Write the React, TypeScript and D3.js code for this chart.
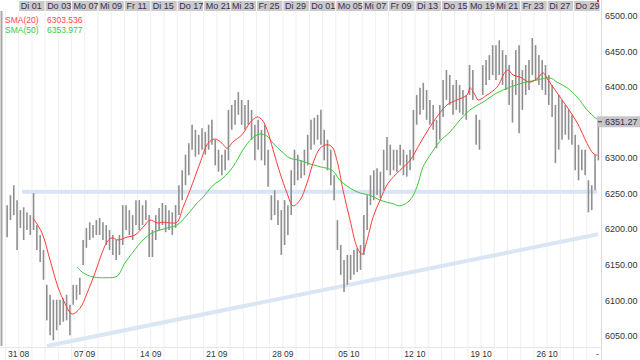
import React from "react";
import * as d3 from "d3";

const W = 640;
const H = 360;

const topLabels = ["Di 01","Do 03","Mo 07","Mi 09","Fr 11","Di 15","Do 17","Mo 21","Mi 23","Fr 25","Di 29","Do 01","Mo 05","Mi 07","Fr 09","Di 13","Do 15","Mo 19","Mi 21","Fr 23","Di 27","Do 29"];
const topLabelDays = [1,3,5,7,9,11,13,15,17,19,21,23,25,27,29,31,33,35,37,39,41,43];
const weekLabels = ["31 08","07 09","14 09","21 09","28 09","05 10","12 10","19 10","26 10"];
const weekLabelDays = [0,5,10,15,20,25,30,35,40];
const yTicks = [6050,6100,6150,6200,6250,6300,6350,6400,6450,6500];

const lastPrice = 6351.27;
const sma20Last = 6303.536;
const sma50Last = 6353.977;

// intraday bars: 4 per trading day (high / low)
const barHigh = [
  [6234,6248,6262,6241],[6227,6231,6224,6220],[6251,6206,6192,6171],[6122,6108,6101,6101],[6101,6103,6108,6094],
  [6122,6122,6132,6185],[6202,6210,6206,6213],[6216,6210,6206,6199],[6192,6185,6192,6234],[6234,6227,6220,6241],
  [6241,6234,6241,6220],[6199,6220,6230,6237],[6234,6227,6224,6234],[6262,6283,6305,6321],[6347,6340,6333,6342],
  [6337,6347,6354,6326],[6312,6305,6312,6368],[6375,6382,6393,6382],[6375,6382,6368,6347],[6354,6340,6347,6312],
  [6248,6255,6241,6227],[6241,6234,6283,6312],[6305,6297,6312,6333],[6354,6357,6361,6368],[6340,6326,6312,6276],
  [6213,6178,6157,6164],[6164,6171,6174,6178],[6220,6248,6276,6283],[6286,6281,6312,6330],[6319,6312,6312,6319],
  [6312,6305,6312,6368],[6389,6399,6406,6396],[6382,6375,6354,6375],[6410,6424,6417,6403],[6410,6403,6396,6389],
  [6431,6424,6361,6354],[6431,6438,6445,6459],[6459,6466,6452,6445],[6431,6410,6452,6459],[6424,6431,6438,6469],
  [6459,6445,6438,6431],[6417,6403,6375,6389],[6382,6375,6368,6361],[6333,6319,6312,6312],[6269,6262,6305,6354],
];
const barLow = [
  [6189,6213,6220,6171],[6202,6185,6199,6192],[6199,6171,6154,6129],[6072,6051,6044,6058],[6065,6070,6072,6051],
  [6094,6101,6108,6150],[6174,6185,6188,6192],[6192,6185,6178,6171],[6164,6157,6164,6178],[6199,6192,6185,6206],
  [6199,6206,6213,6161],[6161,6185,6199,6206],[6196,6199,6192,6202],[6220,6241,6262,6276],[6312,6302,6305,6312],
  [6305,6312,6319,6290],[6281,6276,6283,6297],[6340,6347,6361,6347],[6340,6347,6326,6297],[6312,6297,6290,6260],
  [6213,6220,6206,6164],[6178,6192,6220,6262],[6269,6272,6276,6290],[6312,6319,6326,6319],[6297,6283,6262,6241],
  [6171,6136,6112,6122],[6129,6136,6140,6143],[6164,6199,6234,6241],[6248,6244,6255,6283],[6276,6283,6281,6290],
  [6276,6274,6283,6297],[6347,6361,6368,6354],[6347,6340,6314,6326],[6358,6382,6375,6361],[6368,6364,6361,6354],
  [6389,6382,6319,6312],[6389,6403,6410,6417],[6410,6417,6403,6396],[6375,6350,6389,6335],[6368,6389,6396,6417],
  [6410,6403,6396,6389],[6375,6358,6293,6312],[6326,6333,6326,6319],[6283,6269,6283,6276],[6224,6227,6255,6297],
];

// SMA(20): position in trading days, value
const sma20T = [2.08,2.76,3.37,3.97,4.5,5.03,5.64,6.17,6.78,7.31,7.68,8.06,8.52,9.2,9.8,10.41,10.94,11.47,11.92,12.45,12.98,13.44,13.97,14.72,15.33,15.86,16.39,16.77,17.22,17.9,18.51,19.04,19.42,19.8,20.25,20.78,21.31,21.76,22.29,22.82,23.28,23.81,24.34,24.72,25.09,25.55,26.08,26.61,26.99,27.37,27.82,28.35,28.96,29.86,30.62,31.38,32.13,32.89,33.42,34.18,34.94,35.16,35.54,35.77,36.45,37.21,37.81,38.04,38.42,38.95,39.7,40.31,40.69,41.07,41.75,42.51,43.27,44.02,44.47,44.78];
const sma20V = [6216,6195,6157,6119,6096,6081,6089,6110,6139,6167,6182,6188,6185,6189,6192,6203,6213,6209,6210,6209,6210,6231,6255,6293,6321,6327,6321,6314,6323,6333,6350,6358,6354,6340,6312,6279,6251,6233,6241,6265,6293,6314,6319,6316,6297,6255,6213,6175,6165,6185,6217,6241,6265,6283,6297,6321,6344,6364,6375,6382,6389,6399,6389,6382,6389,6400,6421,6424,6417,6414,6407,6413,6420,6410,6392,6372,6350,6321,6307,6304];

// SMA(50)
const sma50T = [5.41,5.87,6.62,7.68,8.44,9.05,9.65,10.41,11.09,11.7,12.45,12.98,13.74,14.5,14.95,15.71,16.46,17.22,17.98,18.66,19.27,19.8,20.25,20.93,21.54,22.29,23.05,23.81,24.72,25.32,26.08,26.84,27.59,28.35,29.33,29.86,30.62,31.15,31.61,32.13,32.89,33.65,34.41,35.16,36.15,37.21,38.19,39.17,40.23,41.22,41.75,42.51,43.27,44.02,44.63,44.85];
const sma50V = [6147,6139,6133,6132,6134,6153,6168,6185,6195,6199,6203,6206,6220,6237,6245,6262,6272,6288,6312,6328,6334,6331,6321,6309,6300,6297,6292,6288,6283,6269,6258,6251,6248,6241,6236,6233,6241,6260,6288,6304,6324,6337,6354,6368,6379,6392,6400,6406,6410,6413,6407,6399,6386,6368,6357,6354];

const supportLevel = { t0: 1.25, t1: 44.8, v0: 6253, v1: 6253 };
const trendLine = { t0: 3.14, t1: 44.85, v0: 6036, v1: 6193 };

const FONT = "'Liberation Sans', Arial, sans-serif";
const TXT = "#3b2d4f";

export default function App() {
  const x = d3.scaleLinear().domain([0, 45]).range([5.5, 600]);
  const y = d3.scaleLinear().domain([6050, 6500]).range([336, 16]);

  const bars: { t: number; h: number; l: number }[] = [];
  barHigh.forEach((day, i) => {
    day.forEach((h, k) => {
      bars.push({ t: i + (k + 0.5) / 4, h, l: barLow[i][k] });
    });
  });

  const line = d3
    .line<[number, number]>()
    .x((d) => x(d[0]))
    .y((d) => y(d[1]))
    .curve(d3.curveCatmullRom.alpha(0.5));

  const sma20 = line(sma20T.map((t, i) => [t, sma20V[i]]) as [number, number][]) || "";
  const sma50 = line(sma50T.map((t, i) => [t, sma50V[i]]) as [number, number][]) || "";

  const days = d3.range(0, 45);

  return (
    <svg width={W} height={H} style={{ display: "block", position: "absolute", left: 0, top: 0, background: "#fff" }} fontFamily={FONT}>
      <rect x={0} y={0} width={W} height={H} fill="#fff" />
      {/* vertical day grid */}
      {days.map((d) => (
        <line key={"g" + d} x1={x(d)} x2={x(d)} y1={11} y2={H} stroke="#efefef" strokeWidth={1} />
      ))}
      {/* header boxes */}
      {topLabelDays.map((d, i) => (
        <g key={"h" + i}>
          <rect x={x(d) + 0.5} y={1} width={x(d + 2) - x(d) - 1} height={10} fill="#cacaca" />
          <text x={x(d) + 2} y={9} fontSize={9} fill={TXT}>
            {topLabels[i]}
          </text>
        </g>
      ))}
      <rect x={597} y={0} width={2} height={2} fill="#e03030" />
      {/* bottom separator and axis */}
      <line x1={0} x2={601} y1={347.5} y2={347.5} stroke="#e6e6e6" />
      <line x1={601.5} x2={601.5} y1={0} y2={H} stroke="#dcdcdc" />
      <line x1={1.5} x2={1.5} y1={11} y2={346} stroke="#a8a8a8" strokeWidth={2} />
      {/* reference lines */}
      <line x1={x(supportLevel.t0)} x2={x(supportLevel.t1)} y1={y(supportLevel.v0)} y2={y(supportLevel.v1)} stroke="#d9e5f5" strokeWidth={4} />
      <line x1={x(trendLine.t0)} x2={x(trendLine.t1)} y1={y(trendLine.v0)} y2={y(trendLine.v1)} stroke="#dbe6f5" strokeWidth={4} />
      {/* bars */}
      {bars.map((b, i) => (
        <line key={"b" + i} x1={x(b.t)} x2={x(b.t)} y1={y(b.h)} y2={y(b.l)} stroke="#8f8f8f" strokeWidth={1.6} />
      ))}
      {/* SMAs */}
      <path d={sma50} fill="none" stroke="#3cc83c" strokeWidth={1} />
      <path d={sma20} fill="none" stroke="#ff3a3a" strokeWidth={1} />
      {/* legend */}
      <text x={5} y={23} fontSize={8.5} fill="#ff4a4a">SMA(20)</text>
      <text x={47} y={23} fontSize={8.5} fill="#ff4a4a">{sma20Last.toFixed(3)}</text>
      <text x={5} y={33} fontSize={8.5} fill="#3cc83c">SMA(50)</text>
      <text x={47} y={33} fontSize={8.5} fill="#3cc83c">{sma50Last.toFixed(3)}</text>
      {/* y axis labels */}
      {yTicks.map((v) => (
        <text key={"y" + v} x={605} y={y(v)} dy="0.35em" fontSize={9} fill="#333">
          {v.toFixed(2)}
        </text>
      ))}
      {/* last price box */}
      <rect x={597} y={y(lastPrice) - 5.5} width={43} height={11} fill="#c6c6c6" />
      <line x1={598} x2={602} y1={y(lastPrice)} y2={y(lastPrice)} stroke={TXT} strokeWidth={1} />
      <text x={605} y={y(lastPrice)} dy="0.35em" fontSize={9} fill={TXT}>
        {lastPrice.toFixed(2)}
      </text>
      {/* bottom labels */}
      {weekLabels.map((l, i) => (
        <text key={"w" + i} x={x(weekLabelDays[i]) + 2.5} y={357} fontSize={8.5} fill="#333">
          {l}
        </text>
      ))}
      <text x={596} y={357} fontSize={8.5} fill="#333">-</text>
    </svg>
  );
}
